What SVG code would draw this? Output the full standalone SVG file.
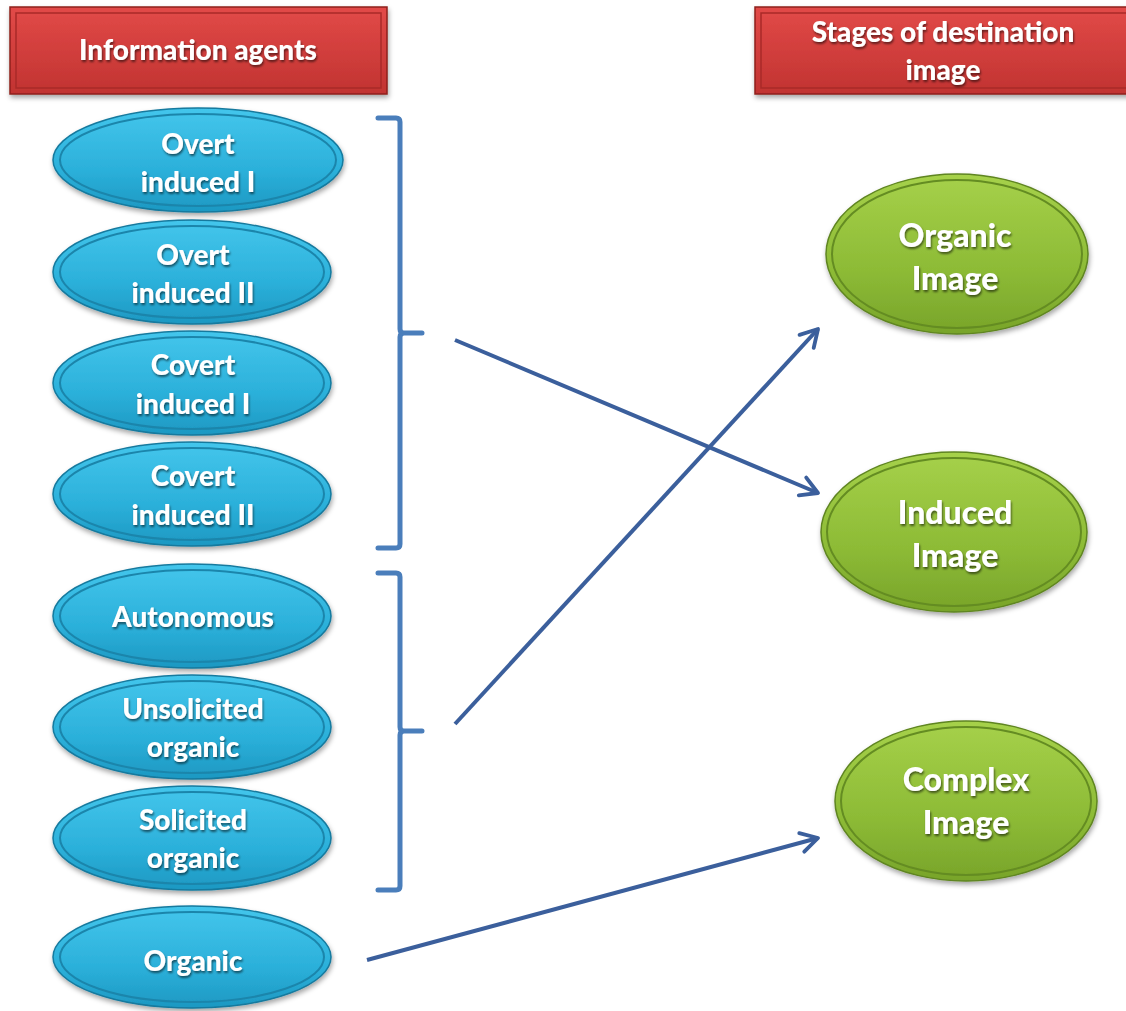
<svg xmlns="http://www.w3.org/2000/svg" width="1126" height="1011" viewBox="0 0 1126 1011">
  <defs>
    <linearGradient id="redFill" x1="0" y1="0" x2="0" y2="1">
      <stop offset="0" stop-color="#e24a48"/>
      <stop offset="1" stop-color="#c13331"/>
    </linearGradient>
    <linearGradient id="blueFill" x1="0" y1="0" x2="0" y2="1">
      <stop offset="0" stop-color="#44c6ec"/>
      <stop offset="0.6" stop-color="#2bb0da"/>
      <stop offset="1" stop-color="#1d98c2"/>
    </linearGradient>
    <linearGradient id="greenFill" x1="0" y1="0" x2="0" y2="1">
      <stop offset="0" stop-color="#a6d14a"/>
      <stop offset="0.6" stop-color="#8dbb36"/>
      <stop offset="1" stop-color="#78a42a"/>
    </linearGradient>
    <filter id="shadow" x="-10%" y="-10%" width="120%" height="130%">
      <feDropShadow dx="1" dy="3" stdDeviation="2.5" flood-color="#000" flood-opacity="0.35"/>
    </filter>
    <filter id="textShadow" x="-10%" y="-20%" width="120%" height="150%">
      <feDropShadow dx="1" dy="2" stdDeviation="1.2" flood-color="#000" flood-opacity="0.55"/>
    </filter>
    <marker id="chevron" viewBox="0 0 20 20" refX="17" refY="10" markerWidth="6" markerHeight="6" markerUnits="strokeWidth" orient="auto">
      <polyline points="3,2 17,10 3,18" fill="none" stroke="#3b5f9c" stroke-width="3.2" stroke-linecap="round" stroke-linejoin="round"/>
    </marker>
  </defs>
  <style>
    .hdr { fill: url(#redFill); stroke: #8e1f1e; stroke-width: 1.5; filter: url(#shadow); }
    .hdrIn { fill: none; stroke: #a92a28; stroke-width: 1.5; }
    .blue { fill: url(#blueFill); stroke: #167a9e; stroke-width: 1.5; filter: url(#shadow); }
    .blueIn { fill: none; stroke: #1b85ab; stroke-width: 2; }
    .green { fill: url(#greenFill); stroke: #5f8520; stroke-width: 1.5; filter: url(#shadow); }
    .greenIn { fill: none; stroke: #648c22; stroke-width: 2; }
    .t { font-family: Lato, "Open Sans", "Liberation Sans", sans-serif; font-weight: 900; fill: #ffffff; text-anchor: middle; filter: url(#textShadow); }
    .th { font-size: 28px; }
    .tb { font-size: 28px; }
    .tg { font-size: 32px; }
    .bracket { fill: none; stroke: #4a7ebb; stroke-width: 5; stroke-linejoin: round; stroke-linecap: round; }
    .arrow { fill: none; stroke: #3b5f9c; stroke-width: 4; marker-end: url(#chevron); }
  </style>

  <!-- Column headers -->
  <g id="hdr-agents">
    <rect class="hdr" x="10" y="7" width="377" height="87"/>
    <rect class="hdrIn" x="16" y="13" width="365" height="75"/>
    <text class="t th" x="198" y="60">Information agents</text>
  </g>
  <g id="hdr-stages">
    <rect class="hdr" x="755" y="7" width="380" height="87"/>
    <rect class="hdrIn" x="761" y="13" width="368" height="75"/>
    <text class="t th" x="943" y="42">Stages of destination</text>
    <text class="t th" x="943" y="80">image</text>
  </g>

  <!-- Information agents -->
  <g id="overt-induced-1">
    <ellipse class="blue" cx="198" cy="160" rx="145" ry="52"/>
    <ellipse class="blueIn" cx="198" cy="160" rx="138" ry="46"/>
    <text class="t tb" x="198" y="154">Overt</text>
    <text class="t tb" x="198" y="192">induced I</text>
  </g>
  <g id="overt-induced-2">
    <ellipse class="blue" cx="192" cy="272" rx="139" ry="52"/>
    <ellipse class="blueIn" cx="192" cy="272" rx="132" ry="46"/>
    <text class="t tb" x="193" y="265">Overt</text>
    <text class="t tb" x="193" y="303">induced II</text>
  </g>
  <g id="covert-induced-1">
    <ellipse class="blue" cx="192" cy="383" rx="139" ry="52"/>
    <ellipse class="blueIn" cx="192" cy="383" rx="132" ry="46"/>
    <text class="t tb" x="193" y="375">Covert</text>
    <text class="t tb" x="193" y="414">induced I</text>
  </g>
  <g id="covert-induced-2">
    <ellipse class="blue" cx="192" cy="494" rx="139" ry="52"/>
    <ellipse class="blueIn" cx="192" cy="494" rx="132" ry="46"/>
    <text class="t tb" x="193" y="486">Covert</text>
    <text class="t tb" x="193" y="525">induced II</text>
  </g>
  <g id="autonomous">
    <ellipse class="blue" cx="192" cy="616" rx="139" ry="52"/>
    <ellipse class="blueIn" cx="192" cy="616" rx="132" ry="46"/>
    <text class="t tb" x="193" y="627">Autonomous</text>
  </g>
  <g id="unsolicited-organic">
    <ellipse class="blue" cx="192" cy="727" rx="139" ry="52"/>
    <ellipse class="blueIn" cx="192" cy="727" rx="132" ry="46"/>
    <text class="t tb" x="193" y="719">Unsolicited</text>
    <text class="t tb" x="193" y="757">organic</text>
  </g>
  <g id="solicited-organic">
    <ellipse class="blue" cx="192" cy="838" rx="139" ry="52"/>
    <ellipse class="blueIn" cx="192" cy="838" rx="132" ry="46"/>
    <text class="t tb" x="193" y="830">Solicited</text>
    <text class="t tb" x="193" y="868">organic</text>
  </g>
  <g id="organic">
    <ellipse class="blue" cx="192" cy="957" rx="139" ry="51"/>
    <ellipse class="blueIn" cx="192" cy="957" rx="132" ry="45"/>
    <text class="t tb" x="193" y="971">Organic</text>
  </g>

  <!-- Stages of destination image -->
  <g id="organic-image">
    <ellipse class="green" cx="957" cy="254" rx="131" ry="80"/>
    <ellipse class="greenIn" cx="957" cy="254" rx="125" ry="74"/>
    <text class="t tg" x="955" y="247">Organic</text>
    <text class="t tg" x="955" y="290">Image</text>
  </g>
  <g id="induced-image">
    <ellipse class="green" cx="954" cy="532" rx="133" ry="80"/>
    <ellipse class="greenIn" cx="954" cy="532" rx="127" ry="74"/>
    <text class="t tg" x="955" y="524">Induced</text>
    <text class="t tg" x="955" y="567">Image</text>
  </g>
  <g id="complex-image">
    <ellipse class="green" cx="966" cy="801" rx="131" ry="80"/>
    <ellipse class="greenIn" cx="966" cy="801" rx="125" ry="74"/>
    <text class="t tg" x="966" y="791">Complex</text>
    <text class="t tg" x="966" y="834">Image</text>
  </g>

  <!-- Brackets and arrows -->
  <g id="connectors">
    <path class="bracket" d="M378,118 H396 Q400,118 400,122 V329 Q400,333 404,333 H422 M404,333 Q400,333 400,337 V544 Q400,548 396,548 H378"/>
    <path class="bracket" d="M378,573 H396 Q400,573 400,577 V727 Q400,731 404,731 H422 M404,731 Q400,731 400,735 V886 Q400,890 396,890 H378"/>
    <line class="arrow" x1="455" y1="340" x2="818" y2="493"/>
    <line class="arrow" x1="455" y1="724" x2="818" y2="329"/>
    <line class="arrow" x1="367" y1="960" x2="818" y2="838"/>
  </g>
</svg>
